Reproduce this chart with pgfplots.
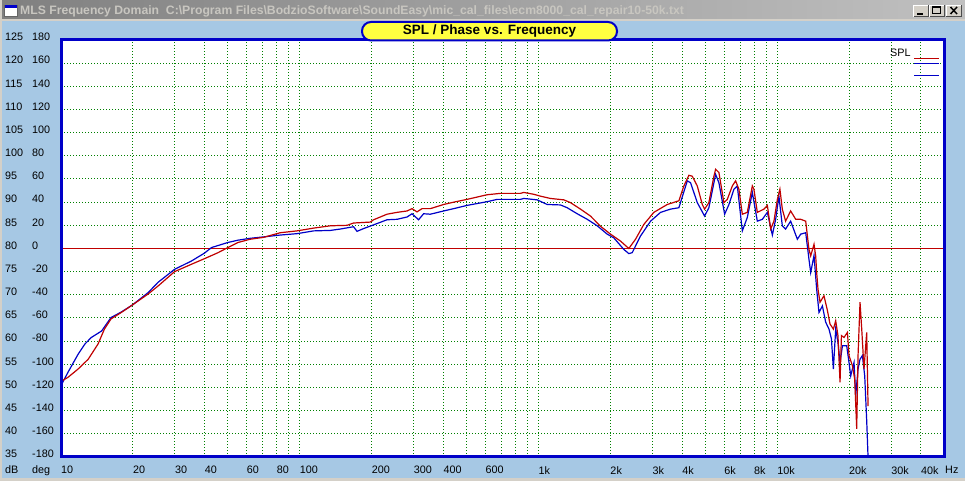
\documentclass[border=0pt]{standalone}
\usepackage{fontspec}
\setmainfont{Liberation Sans}
\usepackage{pgfplots}
\pgfplotsset{compat=1.18}

\definecolor{winbg}{RGB}{166,200,228}
\definecolor{wingray}{RGB}{212,208,200}
\definecolor{tbtext}{RGB}{200,198,192}
\definecolor{tbleft}{RGB}{128,128,128}
\definecolor{tbright}{RGB}{192,192,192}
\definecolor{frameblue}{RGB}{0,0,200}
\definecolor{curvered}{RGB}{192,0,0}
\definecolor{curveblue}{RGB}{0,0,200}
\definecolor{gridgreen}{RGB}{0,128,0}
\definecolor{titleyellow}{RGB}{255,255,64}

\newcommand\lbl{\fontsize{10.8}{12}\selectfont}
\newcommand\yl[2]{\makebox[27pt][l]{#1}#2}

\begin{document}
\begin{tikzpicture}[x=1pt,y=1pt]
% window
\fill[winbg] (0,0) rectangle (965,481);
\shade[left color=tbleft, right color=tbright] (0,462) rectangle (965,481);
\fill[wingray] (0,460) rectangle (965,462);
\fill[wingray] (0,0) rectangle (965,3);
\fill[wingray] (0,0) rectangle (1.5,481);
% title bar icon
\filldraw[fill=white, draw=black!60] (4,464.5) rectangle (17,476);
\fill[blue!80!black] (4.5,473) rectangle (16.5,475.5);
\node[anchor=base west, inner sep=0pt, text=tbtext, font=\fontsize{12.2}{14}\selectfont\bfseries]
  at (20,466.3) {MLS Frequency Domain\ \ C:\textbackslash Program Files\textbackslash BodzioSoftware\textbackslash SoundEasy\textbackslash mic\_cal\_files\textbackslash ecm8000\_cal\_repair10-50k.txt};
% window buttons
\foreach \bx in {913,929,945.5} {
  \fill[wingray] (\bx,463.7) rectangle (\bx+16,476.3);
  \draw[white, line width=1pt] (\bx+0.5,464.2) -- (\bx+0.5,475.8) -- (\bx+15.5,475.8);
  \draw[black!70, line width=1pt] (\bx+0.5,464.2) -- (\bx+15.5,464.2) -- (\bx+15.5,475.8);
}
\fill[black] (917,465.7) rectangle (923,467.7);
\draw[black, line width=1pt] (932,467) rectangle (940,474);
\draw[black, line width=2pt] (932,473.5) -- (940,473.5);
\draw[black, line width=1.5pt] (950.5,467) -- (957,474) (950.5,474) -- (957,467);

\begin{axis}[
  at={(61pt,24pt)}, anchor=south west,
  scale only axis, width=883pt, height=417pt,
  xmode=log, xmin=10, xmax=50000, ymin=35, ymax=125,
  axis background/.style={fill=white},
  axis line style={draw=none},
  xtick={10,20,30,40,50,60,70,80,90,100,200,300,400,500,600,700,800,900,1000,2000,3000,4000,5000,6000,7000,8000,9000,10000,20000,30000,40000},
  xticklabels={10,20,30,40,,60,,80,,100,200,300,400,,600,,,,1k,2k,3k,4k,,6k,,8k,,10k,20k,30k,40k},
  ytick={35,40,...,125},
  yticklabels={\yl{35}{-180},\yl{40}{-160},\yl{45}{-140},\yl{50}{-120},\yl{55}{-100},\yl{60}{-80},\yl{65}{-60},\yl{70}{-40},\yl{75}{-20},\yl{80}{0},\yl{85}{20},\yl{90}{40},\yl{95}{60},\yl{100}{80},\yl{105}{100},\yl{110}{120},\yl{115}{140},\yl{120}{160},\yl{125}{180}},
  grid=major,
  major grid style={draw=gridgreen, line width=1pt, dash pattern=on 1pt off 2pt},
  major tick length=0pt,
  tick style={draw=none},
  xticklabel style={anchor=north west, inner sep=0pt, yshift=-9pt, font=\lbl},
  yticklabel style={anchor=west, inner sep=0pt, xshift=-56pt, yshift=3pt, font=\lbl},
]
% 0 deg reference
\addplot[curvered, line width=1.8pt] coordinates {(10,80) (50000,80)};

% blue curve
\addplot[curveblue, line width=1.2pt] coordinates {
(10.0,50.4) (10.7,53.3) (11.8,57.2) (12.6,59.4) (13.4,60.8) (14.8,62.2) (15.7,64.1) (16.2,65.1) (17.9,66.3) (19.9,67.8) (23.2,70.5) (25.5,72.7) (29.9,75.5) (35.2,77.3) (39.9,79.0) (42.7,80.2) (50,81.3) (55.2,81.8) (62.0,82.2) (70.5,82.5) (82.8,82.9) (97.3,83.2) (114.3,83.8) (134.3,83.9) (147.9,84.2) (168.1,84.7) (173.8,83.7) (185.2,84.3) (203.9,85.1) (232.1,86.2) (255.6,86.3) (281.6,86.8) (295.4,87.5) (314.8,86.2) (330.3,87.5) (352.5,87.4) (400.8,88.1) (441.5,88.6) (502.3,89.3) (609.4,90.1) (671.2,90.6) (840.8,90.6) (868,90.8) (987.6,90.5) (1088,89.5) (1237,89.4) (1319,88.8) (1453,87.5) (1601,86.3) (1763,84.9) (1941,83.1) (2069,82.3) (2279,79.8) (2391,78.9) (2471,79.1) (2677,82.7) (2949,85.9) (3248,87.8) (3577,88.5) (3876,88.8) (4203,94.6) (4338,94.2) (4628,89.9) (4966,87.0) (5176,88.8) (5523,96.0) (5702,94.2) (6025,87.4) (6281,89.5) (6592,92.8) (6810,93.5) (7146,83.8) (7500,86.7) (7870,92.1) (8260,85.9) (8670,86.3) (9099,87.8) (9548,82.9) (9856,86.3) (10170,91.3) (10510,84.9) (10850,84.2) (11390,85.9) (12150,82.0) (12550,83.1) (13170,83.4) (13590,77.7) (13820,74.8) (14270,78.5) (14640,71.2) (14970,66.2) (15470,67.6) (15970,64.1) (16490,62.6) (16880,60.5) (17200,54.0) (17590,62.6) (17980,59.7) (18340,55.4) (18770,59.0) (19560,59.0) (20000,55.4) (20330,52.5) (20990,55.4) (21330,48.2) (21820,54.0) (22240,56.1) (22760,56.9) (23270,52.5) (23720,42.8) (24030,35.0)
};

% red curve (SPL)
\addplot[curvered, line width=1.2pt] coordinates {
(10.0,51.3) (10.7,52.2) (11.8,54.0) (13.0,56.1) (14.3,59.4) (15.2,62.6) (16.2,64.8) (17.9,66.2) (19.9,67.8) (23.2,70.2) (25.5,71.9) (29.9,75.0) (35.2,76.6) (39.9,77.8) (45.5,79.1) (50,80.2) (55.2,81.3) (62.0,82.0) (70.5,82.4) (82.8,83.4) (97.3,83.8) (114.3,84.4) (134.3,84.9) (157.8,85.0) (168.1,85.5) (197.5,85.7) (203.9,86.2) (232.1,87.4) (255.6,87.8) (281.6,88.1) (295.4,88.6) (310.0,87.9) (325.3,88.6) (352.5,88.6) (400.8,89.5) (441.5,90.0) (502.3,90.6) (609.4,91.6) (693.1,91.9) (840.8,91.9) (868,92.1) (955.7,91.7) (1019,91.3) (1123,90.8) (1277,90.5) (1362,89.9) (1500,88.5) (1652,87.0) (1820,84.8) (2004,83.1) (2207,81.6) (2391,80.0) (2551,82.0) (2764,85.2) (3044,87.8) (3465,89.5) (3876,90.3) (4067,93.5) (4268,95.8) (4410,95.6) (4628,93.5) (4858,89.5) (4966,88.5) (5176,89.9) (5433,95.6) (5523,97.1) (5702,96.4) (5983,89.9) (6183,90.6) (6489,93.5) (6698,94.6) (6915,92.8) (7146,87.4) (7500,87.8) (7870,93.5) (7992,92.8) (8260,87.8) (8805,88.5) (9099,89.3) (9391,84.2) (9696,85.9) (10020,90.6) (10270,92.8) (10510,88.5) (10850,85.9) (11390,88.1) (11960,86.3) (12550,86.3) (13170,85.9) (13590,79.8) (13820,78.4) (14270,80.9) (14500,78.4) (14640,74.8) (14830,71.2) (15120,68.4) (15710,69.8) (16240,66.6) (16650,63.7) (17200,62.6) (17590,64.4) (17980,61.2) (18340,51.1) (18590,61.2) (19060,60.8) (19700,61.9) (20000,56.9) (20670,54.7) (21130,51.8) (21540,41.1) (21820,56.9) (22240,68.4) (22610,62.6) (23110,54.0) (23720,61.9) (24030,46.0)
};
\end{axis}

% plot frame
\draw[frameblue, line width=3pt] (61,24) rectangle (944,441);

% axis captions
\node[anchor=base west, inner sep=0pt, font=\lbl] at (5,7) {dB};
\node[anchor=base west, inner sep=0pt, font=\lbl] at (32,7) {deg};
\node[anchor=base west, inner sep=0pt, font=\lbl] at (945,7) {Hz};

% title box
\draw[frameblue, line width=2pt, fill=titleyellow, rounded corners=9pt] (362,440.5) rectangle (617,459);
\node[font=\fontsize{13.5}{15}\selectfont\bfseries, inner sep=0pt] at (489.5,449.5) {SPL / Phase vs. Frequency};

% legend
\node[anchor=base west, inner sep=0pt, font=\lbl] at (890,424) {SPL};
\draw[curvered, line width=1pt] (914,422.7) -- (939,422.7);
\draw[curveblue, line width=1pt] (914,417) -- (939,417);
\draw[curveblue, line width=1pt] (914,405) -- (939,405);

\pgfresetboundingbox
\path (0,0) rectangle (965,481);
\end{tikzpicture}
\end{document}
